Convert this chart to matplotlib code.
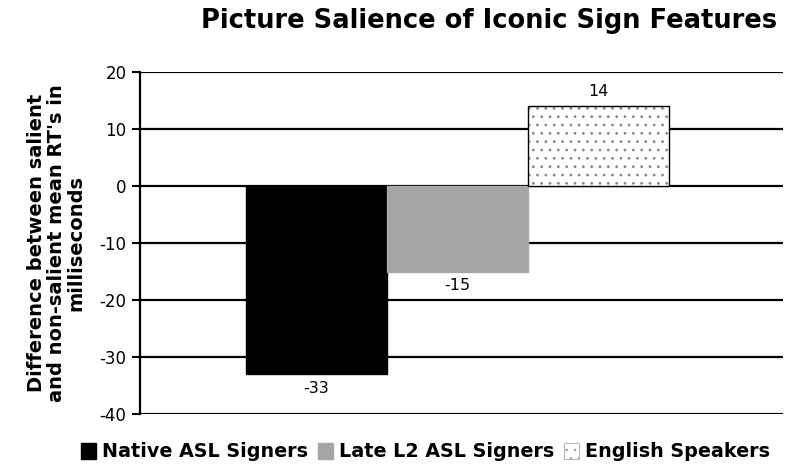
import matplotlib.pyplot as plt
from matplotlib.patches import Patch

# Reaction-time difference (salient minus non-salient), ms
groups = ["Native ASL Signers", "Late L2 ASL Signers", "English Speakers"]
values = [-33, -15, 14]
colors = ["black", "#a6a6a6", "white"]
hatches = [None, None, ".."]

yticks = [-40, -30, -20, -10, 0, 10, 20]

plt.rcParams["font.family"] = ["DejaVu Sans"]
plt.rcParams["axes.unicode_minus"] = False
plt.rcParams["hatch.linewidth"] = 0.8

fig = plt.figure(figsize=(7.85, 4.70), dpi=100)
ax = fig.add_axes([0.178, 0.119, 0.819, 0.728])

# horizontal grid lines drawn behind the bars
for t in yticks:
    ax.axhline(t, color="black", lw=1.6, zorder=1)

handles = []
for i, (v, c, h) in enumerate(zip(values, colors, hatches)):
    if h:
        ax.bar(i, v, width=1.0, color=c, edgecolor="#888888", hatch=h, lw=0, zorder=2)
        ax.bar(i, v, width=1.0, fill=False, edgecolor="black", lw=1.0, zorder=3)
        handles.append(Patch(facecolor=c, edgecolor="#aaaaaa", hatch="..", lw=0.6,
                             label=groups[i]))
    else:
        ax.bar(i, v, width=1.0, color=c, edgecolor="black" if i == 0 else c, lw=1.0,
               zorder=2)
        handles.append(Patch(facecolor=c, edgecolor=c, label=groups[i]))
    off = 1.2 if v > 0 else -1.2
    ax.text(i, v + off, f"{v}", ha="center", va="bottom" if v > 0 else "top",
            fontsize=11.5)

ax.set_xlim(-1.252, 3.309)
ax.set_ylim(-40, 20)
ax.set_yticks(yticks)
ax.set_xticks([])
ax.tick_params(axis="y", labelsize=12, length=6, width=1.5, direction="out")
for s in ["top", "right", "bottom"]:
    ax.spines[s].set_visible(False)
ax.spines["left"].set_linewidth(1.6)

ax.set_ylabel("Difference between salient\nand non-salient mean RT's in\nmilliseconds",
              fontsize=14, fontweight="bold", labelpad=10, linespacing=1.05,
              ha="center")

fig.suptitle("Picture Salience of Iconic Sign Features", x=0.623, y=0.982,
             fontsize=18.5, fontweight="bold")

fig.legend(handles=handles, loc="lower center", bbox_to_anchor=(0.542, -0.018),
           ncol=3, frameon=False, prop={"weight": "bold", "size": 13.8},
           handlelength=0.8, handleheight=0.9, handletextpad=0.3, columnspacing=0.5)

fig.savefig("out.png", dpi=100)
